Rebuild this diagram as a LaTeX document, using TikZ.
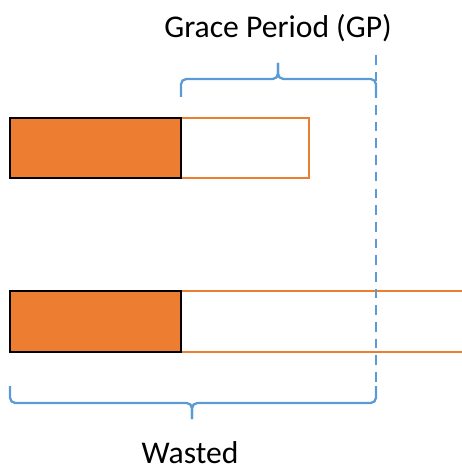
\documentclass[tikz,border=0pt]{standalone}
\usepackage{fontspec}
\setmainfont{Carlito}
\definecolor{boxorange}{HTML}{ED7D31}
\definecolor{gpblue}{HTML}{5B9BD5}
\tikzset{
	used/.style={fill=boxorange,draw=black,line width=1.6pt},
	free/.style={draw=boxorange,line width=1.3pt},
	bracket/.style={draw=gpblue,line width=1.3pt,rounded corners=3pt},
	label/.style={font=\fontsize{18}{20}\selectfont,anchor=base,inner sep=0pt}
}
\begin{document}
\begin{tikzpicture}[x=0.02cm,y=-0.02cm]
		\useasboundingbox (0,0) rectangle (462,469);
		% first request: finished within the grace period
		\draw[free] (181,118) rectangle (309,178);
		\draw[used] (10,118) rectangle (181,178);
		% second request: still running
		\draw[free] (181,291) -- (462,291);
		\draw[free] (181,352) -- (462,352);
		\draw[used] (10,291) rectangle (181,352);
		% end of the grace period
		\draw[gpblue,line width=1.3pt,dash pattern=on 5.5pt off 4pt] (376,55) -- (376,400);
		% braces
		\draw[bracket] (181,97) -- (181,79) -- (278,79) -- (278,63);
		\draw[bracket] (278,63) -- (278,79) -- (376,79) -- (376,97);
		\draw[bracket] (10,386) -- (10,403) -- (192,403) -- (192,419);
		\draw[bracket] (192,419) -- (192,403) -- (376,403) -- (376,386);
		\node[label] (gp) at (278,38) {Grace Period (GP)};
		\node[label] (wasted) at (190,463) {Wasted};
		
\end{tikzpicture}
\end{document}
